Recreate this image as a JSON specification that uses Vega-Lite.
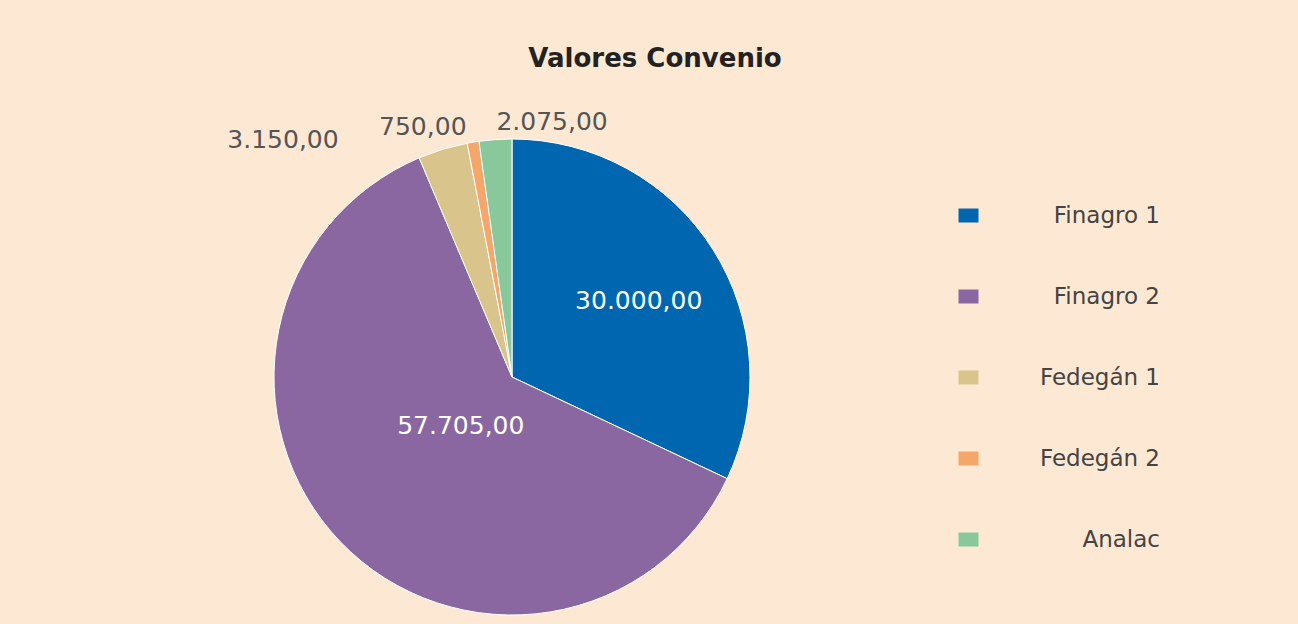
{
  "$schema": "https://vega.github.io/schema/vega-lite/v6.json",
  "autosize": "none",
  "width": 1010,
  "height": 494,
  "padding": {"left": 7, "top": 130, "right": 281, "bottom": 0},
  "background": "#fde9d3",
  "title": {
    "text": "Valores Convenio",
    "font": "DejaVu Sans",
    "fontSize": 26,
    "fontWeight": "bold",
    "color": "#222222",
    "anchor": "middle",
    "offset": 63,
    "dy": 25,
    "dx": 143
  },
  "data": {
    "values": [
      {"name": "Finagro 1", "v": 30000, "ord": 1, "label": "30.000,00"},
      {"name": "Finagro 2", "v": 57705, "ord": 2, "label": "57.705,00"},
      {"name": "Fedegán 1", "v": 3150, "ord": 3, "label": "3.150,00"},
      {"name": "Fedegán 2", "v": 750, "ord": 4, "label": "750,00"},
      {"name": "Analac", "v": 2075, "ord": 5, "label": "2.075,00"}
    ]
  },
  "encoding": {
    "theta": {"field": "v", "type": "quantitative", "stack": true},
    "order": {"field": "ord", "type": "quantitative"}
  },
  "layer": [
    {
      "mark": {"type": "arc", "outerRadius": 238, "stroke": "#ffffff", "strokeWidth": 1},
      "encoding": {
        "color": {
          "field": "name",
          "type": "nominal",
          "scale": {
            "domain": ["Finagro 1", "Finagro 2", "Fedegán 1", "Fedegán 2", "Analac"],
            "range": ["#0066b0", "#8a67a0", "#d9c48c", "#f4a66b", "#88c89a"]
          },
          "legend": {
            "title": null,
            "orient": "none",
            "legendX": 950,
            "legendY": 74,
            "symbolType": "M-1,-0.7H1V0.7H-1Z",
            "symbolSize": 400,
            "symbolStrokeWidth": 0,
            "labelFont": "DejaVu Sans",
            "labelFontSize": 23,
            "labelColor": "#444444",
            "labelAlign": "right",
            "labelOffset": 180,
            "labelLimit": 300,
            "rowPadding": 57
          }
        }
      }
    },
    {
      "mark": {"type": "text", "radius": 150, "dy": 4, "font": "DejaVu Sans", "fontSize": 25, "color": "#ffffff", "baseline": "middle"},
      "encoding": {
        "text": {"condition": {"test": "datum.name === 'Finagro 1'", "field": "label"}, "value": ""}
      }
    },
    {
      "mark": {"type": "text", "radius": 71, "font": "DejaVu Sans", "fontSize": 25, "color": "#ffffff", "baseline": "middle"},
      "encoding": {
        "text": {"condition": {"test": "datum.name === 'Finagro 2'", "field": "label"}, "value": ""}
      }
    },
    {
      "mark": {"type": "text", "radius": 258, "dx": -154, "dy": 10, "font": "DejaVu Sans", "fontSize": 25, "color": "#555555", "baseline": "middle"},
      "encoding": {
        "text": {"condition": {"test": "datum.name === 'Fedegán 1'", "field": "label"}, "value": ""}
      }
    },
    {
      "mark": {"type": "text", "radius": 258, "dx": -47, "dy": 5, "font": "DejaVu Sans", "fontSize": 25, "color": "#555555", "baseline": "middle"},
      "encoding": {
        "text": {"condition": {"test": "datum.name === 'Fedegán 2'", "field": "label"}, "value": ""}
      }
    },
    {
      "mark": {"type": "text", "radius": 258, "dx": 58, "dy": 2, "font": "DejaVu Sans", "fontSize": 25, "color": "#555555", "baseline": "middle"},
      "encoding": {
        "text": {"condition": {"test": "datum.name === 'Analac'", "field": "label"}, "value": ""}
      }
    }
  ],
  "config": {"view": {"stroke": null}}
}
